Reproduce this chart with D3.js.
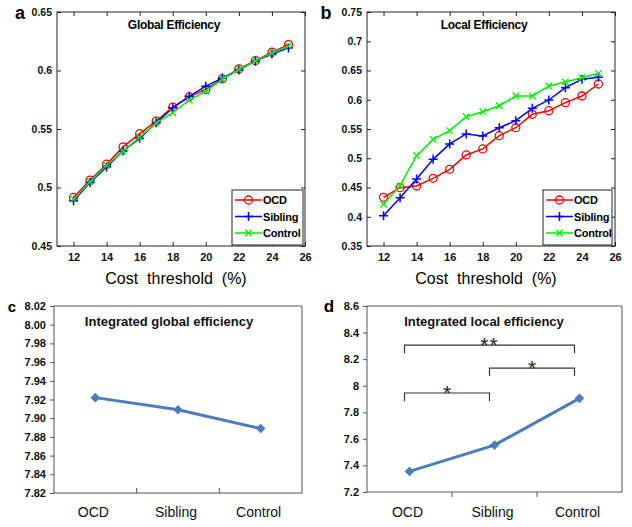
<!DOCTYPE html>
<html><head><meta charset="utf-8">
<script src="https://cdn.jsdelivr.net/npm/d3@7"></script>
<style>
body{margin:0;background:#fff}
svg{display:block;font-family:Arial,"Liberation Sans",sans-serif}
</style>
</head><body>
<svg id="chart" width="632" height="527"></svg>
<script>
// ---------- data ----------
const thresholds = [12,13,14,15,16,17,18,19,20,21,22,23,24,25];
const geOCD     = [0.4915,0.5063,0.5199,0.5347,0.5460,0.5568,0.5687,0.5775,0.5838,0.5929,0.6014,0.6085,0.6156,0.6221];
const geSibling = [0.4887,0.5043,0.5176,0.5313,0.5420,0.5554,0.5681,0.5779,0.5866,0.5935,0.6005,0.6080,0.6140,0.6193];
const geControl = [0.4900,0.5050,0.5190,0.5310,0.5430,0.5550,0.5639,0.5747,0.5824,0.5925,0.6010,0.6080,0.6150,0.6210];
const leOCD     = [0.4332,0.4497,0.4526,0.4657,0.4811,0.5056,0.5159,0.5386,0.5522,0.5751,0.5813,0.5950,0.6064,0.6269];
const leSibling = [0.4018,0.4326,0.4645,0.4981,0.5244,0.5415,0.5380,0.5522,0.5642,0.5854,0.5996,0.6206,0.6350,0.6384];
const leControl = [0.4212,0.4531,0.5044,0.5323,0.5471,0.5710,0.5796,0.5898,0.6064,0.6064,0.6235,0.6303,0.6377,0.6452];
const seriesNames = ["OCD","Sibling","Control"];
const groups = ["OCD","Sibling","Control"];
const integratedGlobal = [7.922, 7.909, 7.889];
const integratedLocal  = [7.355, 7.553, 7.905];
const xTicksAB = [12,14,16,18,20,22,24,26];
const yTicksA = [0.45,0.5,0.55,0.6,0.65];
const yTicksB = [0.35,0.4,0.45,0.5,0.55,0.6,0.65,0.7,0.75];
const yTicksC = [7.82,7.84,7.86,7.88,7.90,7.92,7.94,7.96,7.98,8.00,8.02];
const yTicksD = [7.2,7.4,7.6,7.8,8.0,8.2,8.4,8.6];
const sigBrackets = [
  {from:"OCD", to:"Control", y:8.305, label:"**"},
  {from:"Sibling", to:"Control", y:8.133, label:"*"},
  {from:"OCD", to:"Sibling", y:7.945, label:"*"}
];

// ---------- styles ----------
const colors = {OCD:"#ff0000", Sibling:"#0000ff", Control:"#00ee00"};
const svg = d3.select("#chart");

function marker(sel, name, cx, cy){
  const c = colors[name];
  if(name==="OCD"){
    sel.append("circle").attr("cx",cx).attr("cy",cy).attr("r",4).attr("fill","none").attr("stroke",c).attr("stroke-width",1.3);
  } else if(name==="Sibling"){
    sel.append("path").attr("d",`M${cx-4.5},${cy}H${cx+4.5}M${cx},${cy-4.5}V${cy+4.5}`).attr("stroke",c).attr("stroke-width",1.5);
  } else {
    sel.append("path").attr("d",`M${cx-3.2},${cy-3.2}L${cx+3.2},${cy+3.2}M${cx-3.2},${cy+3.2}L${cx+3.2},${cy-3.2}`).attr("stroke",c).attr("stroke-width",1.3);
  }
}

function linePanel(cfg){
  const g = svg.append("g");
  const x = d3.scaleLinear().domain([11,26]).range([cfg.x0,cfg.x1]);
  const y = d3.scaleLinear().domain(cfg.yDomain).range([cfg.y1,cfg.y0]);
  const fmt = d => String(+d.toFixed(2));
  const axStyle = a => { a.select(".domain").remove(); a.selectAll(".tick line").attr("stroke","#222"); };
  g.append("g").attr("transform",`translate(0,${cfg.y1})`)
    .call(d3.axisBottom(x).tickValues(xTicksAB).tickSizeInner(-4).tickSizeOuter(0).tickPadding(7).tickFormat(d=>d))
    .call(axStyle)
    .call(a=>a.selectAll("text").attr("font-size",11).attr("font-weight","bold").attr("fill","#111").attr("font-family","Arial, 'Liberation Sans'"));
  g.append("g").attr("transform",`translate(0,${cfg.y0})`)
    .call(d3.axisTop(x).tickValues(xTicksAB).tickSizeInner(-4).tickSizeOuter(0).tickFormat(""))
    .call(axStyle);
  g.append("g").attr("transform",`translate(${cfg.x0},0)`)
    .call(d3.axisLeft(y).tickValues(cfg.yTicks).tickSizeInner(-4).tickSizeOuter(0).tickPadding(5).tickFormat(fmt))
    .call(axStyle)
    .call(a=>a.selectAll("text").attr("font-size",10.5).attr("font-weight","bold").attr("fill","#111").attr("font-family","Arial, 'Liberation Sans'"));
  g.append("g").attr("transform",`translate(${cfg.x1},0)`)
    .call(d3.axisRight(y).tickValues(cfg.yTicks).tickSizeInner(-4).tickSizeOuter(0).tickFormat(""))
    .call(axStyle);
  g.append("rect").attr("x",cfg.x0).attr("y",cfg.y0).attr("width",cfg.x1-cfg.x0).attr("height",cfg.y1-cfg.y0)
    .attr("fill","none").attr("stroke","#222").attr("stroke-width",1);
  const line = d3.line().x(d=>x(d[0])).y(d=>y(d[1]));
  cfg.series.forEach((vals,i)=>{
    const name = seriesNames[i];
    const pts = thresholds.map((t,j)=>[t,vals[j]]);
    g.append("path").datum(pts).attr("d",line).attr("fill","none").attr("stroke",colors[name]).attr("stroke-width",1.5);
    const mg = g.append("g");
    pts.forEach(p=>marker(mg,name,x(p[0]),y(p[1])));
  });
  g.append("text").attr("x",(cfg.x0+cfg.x1)/2-7).attr("y",cfg.y0+17).attr("text-anchor","middle")
    .attr("font-size",12).attr("font-weight","bold").attr("letter-spacing",-0.3).text(cfg.title);
  g.append("text").attr("x",(cfg.x0+cfg.x1)/2-5).attr("y",284).attr("text-anchor","middle")
    .attr("font-size",16).attr("xml:space","preserve").style("white-space","pre").text("Cost  threshold  (%)");
  g.append("text").attr("x",cfg.letterX).attr("y",19).attr("text-anchor","middle")
    .attr("font-size",18).attr("font-weight","bold").text(cfg.letter);
  const lw = cfg.legendW, lh = 55;
  const lx = cfg.x1 - lw - cfg.legendInset, ly = cfg.y1 - lh - 1;
  const lg = g.append("g");
  lg.append("rect").attr("x",lx).attr("y",ly).attr("width",lw).attr("height",lh).attr("fill","#fff").attr("stroke","#222");
  seriesNames.forEach((name,i)=>{
    const yy = ly + 10 + i*16.5;
    lg.append("line").attr("x1",lx+3).attr("x2",lx+30).attr("y1",yy).attr("y2",yy).attr("stroke",colors[name]).attr("stroke-width",1.5);
    marker(lg,name,lx+16.5,yy);
    lg.append("text").attr("x",lx+31).attr("y",yy+4).attr("font-size",11).attr("font-weight","bold").attr("letter-spacing",-0.2).text(name);
  });
}

linePanel({x0:57,x1:305,y0:12,y1:246,yDomain:[0.45,0.65],yTicks:yTicksA,
  series:[geOCD,geSibling,geControl],title:"Global Efficiency",letter:"a",letterX:20,legendW:71,legendInset:2});
linePanel({x0:367,x1:615,y0:12,y1:246,yDomain:[0.35,0.75],yTicks:yTicksB,
  series:[leOCD,leSibling,leControl],title:"Local Efficiency",letter:"b",letterX:326,legendW:69,legendInset:3});

function catPanel(cfg){
  const g = svg.append("g");
  const x = d3.scaleBand().domain(groups).range([cfg.x0,cfg.x1]);
  const y = d3.scaleLinear().domain(cfg.yDomain).range([cfg.y1,cfg.y0]);
  const cx = d => x(d)+x.bandwidth()/2;
  g.append("rect").attr("x",cfg.x0).attr("y",cfg.y0).attr("width",cfg.x1-cfg.x0).attr("height",cfg.y1-cfg.y0)
    .attr("fill","none").attr("stroke","#555").attr("stroke-width",1);
  g.append("g").attr("transform",`translate(${cfg.x0},0)`)
    .call(d3.axisLeft(y).tickValues(cfg.yTicks).tickSizeInner(4).tickSizeOuter(0).tickPadding(4).tickFormat(cfg.fmt))
    .call(a=>{a.select(".domain").remove(); a.selectAll(".tick line").attr("stroke","#555");})
    .call(a=>a.selectAll("text").attr("font-size",11).attr("font-weight","bold").attr("fill","#111").attr("font-family","Arial, 'Liberation Sans'"));
  groups.slice(1).forEach(gr=>{
    g.append("line").attr("x1",x(gr)).attr("x2",x(gr)).attr("y1",cfg.y1).attr("y2",cfg.y1+cfg.tickDir*5).attr("stroke","#555");
  });
  groups.forEach(gr=>{
    g.append("text").attr("x",cx(gr)-2).attr("y",517).attr("text-anchor","middle").attr("font-size",14).attr("fill","#111").text(gr);
  });
  const pts = groups.map((gr,i)=>[gr,cfg.values[i]]);
  g.append("path").datum(pts).attr("d",d3.line().x(d=>cx(d[0])).y(d=>y(d[1])))
    .attr("fill","none").attr("stroke","#4a7ebb").attr("stroke-width",3);
  g.selectAll(".dia").data(pts).join("path")
    .attr("transform",d=>`translate(${cx(d[0])},${y(d[1])}) rotate(45)`)
    .attr("d",d3.symbol(d3.symbolSquare,46)).attr("fill","#4a7ebb");
  g.append("text").attr("x",cfg.titleX).attr("y",326).attr("text-anchor","middle")
    .attr("font-size",13).attr("font-weight","bold").attr("fill","#111").text(cfg.title);
  g.append("text").attr("x",cfg.letterX).attr("y",312).attr("text-anchor","middle")
    .attr("font-size",cfg.letterSize).attr("font-weight","bold").text(cfg.letter);
  if(cfg.brackets){
    const off = -5, drop = 8;
    cfg.brackets.forEach(b=>{
      const xa = cx(b.from)+off, xb = cx(b.to)+off, yy = y(b.y);
      g.append("path").attr("d",`M${xa},${yy+drop}V${yy}H${xb}V${yy+drop}`)
        .attr("fill","none").attr("stroke","#333").attr("stroke-width",1.2);
      g.append("text").attr("x",(xa+xb)/2).attr("y",yy+7).attr("text-anchor","middle")
        .attr("font-size",21).attr("fill","#222").attr("letter-spacing",b.label.length>1?1:0).text(b.label);
    });
  }
}

catPanel({x0:54,x1:302,y0:306,y1:493,yDomain:[7.82,8.02],yTicks:yTicksC,fmt:d3.format(".2f"),
  values:integratedGlobal,title:"Integrated global efficiency",titleX:169,letter:"c",letterX:12,letterSize:15,tickDir:-1});
catPanel({x0:367,x1:622,y0:306,y1:492,yDomain:[7.2,8.6],yTicks:yTicksD,fmt:d=>String(+d.toFixed(1)),
  values:integratedLocal,title:"Integrated local efficiency",titleX:484,letter:"d",letterX:329,letterSize:17,tickDir:1,
  brackets:sigBrackets});
</script>
</body></html>
